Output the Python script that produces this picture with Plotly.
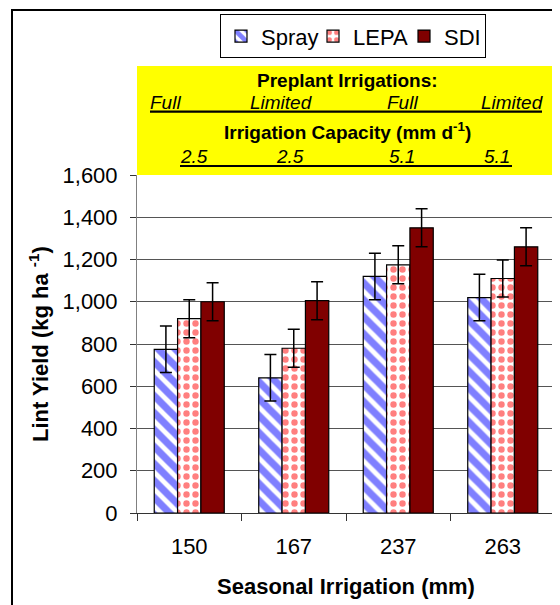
import plotly.graph_objects as go

categories = ["150", "167", "237", "263"]
spray = [775, 640, 1120, 1020]
spray_err = [110, 110, 110, 110]
lepa = [920, 780, 1175, 1110]
lepa_err = [90, 90, 90, 88]
sdi = [1000, 1005, 1350, 1260]
sdi_err = [90, 90, 90, 90]

preplant_labels = ["Full", "Limited", "Full", "Limited"]
capacity_labels = ["2.5", "2.5", "5.1", "5.1"]

FONT = "Liberation Sans, Arial, sans-serif"
OFF = 8  # page body margin of the browser
W, H = 560 - OFF, 605 - OFF
L, R, T, B = 137, 555, 175, 513  # plot area in reference px


def px(x):
    return (x - L) / (R - L)


def py(y):
    return (B - y) / (B - T)


err_style = dict(type="data", color="black", thickness=1.5, width=6, visible=True)

fig = go.Figure()
fig.add_trace(go.Bar(
    name="Spray", x=categories, y=spray, legendwidth=47,
    error_y=dict(array=spray_err, **err_style),
    marker=dict(color="white", line=dict(color="black", width=1.2),
                pattern=dict(shape="\\", fgcolor="#0000FF", bgcolor="white",
                             size=12, solidity=0.6)),
))
fig.add_trace(go.Bar(
    name="LEPA", x=categories, y=lepa, legendwidth=46,
    error_y=dict(array=lepa_err, **err_style),
    marker=dict(color="white", line=dict(color="black", width=1.2),
                pattern=dict(shape=".", fgcolor="#FF0000", bgcolor="white",
                             size=9, solidity=0.4)),
))
fig.add_trace(go.Bar(
    name="SDI", x=categories, y=sdi, legendwidth=36,
    error_y=dict(array=sdi_err, **err_style),
    marker=dict(color="#800000", line=dict(color="black", width=1.2)),
))

shapes = [
    # yellow info box
    dict(type="rect", xref="paper", yref="paper", x0=0, x1=1, y0=1, y1=py(66),
         fillcolor="#FFFF00", line=dict(width=0), layer="below"),
    # underlines
    dict(type="line", xref="paper", yref="paper", x0=px(150), x1=px(542),
         y0=py(111.7), y1=py(111.7), line=dict(color="black", width=2.2)),
    dict(type="line", xref="paper", yref="paper", x0=px(180), x1=px(512),
         y0=py(166), y1=py(166), line=dict(color="black", width=2.2)),
    # right border of plot area
    dict(type="line", xref="paper", yref="paper", x0=1, x1=1, y0=0, y1=1,
         line=dict(color="#808080", width=1)),
    # outer frame
    dict(type="rect", xref="paper", yref="paper", x0=px(12), x1=px(700),
         y0=py(800), y1=py(10), line=dict(color="black", width=2),
         fillcolor="rgba(0,0,0,0)"),
]

annotations = [
    dict(text="<b>Preplant Irrigations:</b>", x=px(347), y=py(80.7)),
    dict(text="<b>Irrigation Capacity (mm d<sup>-1</sup>)</b>", x=px(347), y=py(130.7)),
]
for lab, cx in zip(preplant_labels, [165, 281, 402, 512]):
    annotations.append(dict(text="<i>" + lab + "</i>", x=px(cx), y=py(102.7)))
for lab, cx in zip(capacity_labels, [194, 290, 402, 497]):
    annotations.append(dict(text="<i>" + lab + "</i>", x=px(cx), y=py(156.7)))
for a in annotations:
    a.update(xref="paper", yref="paper", showarrow=False, xanchor="center",
             yanchor="middle", font=dict(family=FONT, size=19, color="black"))

annotations.append(dict(text="<b>Seasonal Irrigation (mm)</b>", xref="paper", yref="paper",
                        x=px(346), y=py(586), showarrow=False, xanchor="center",
                        yanchor="middle", font=dict(family=FONT, size=22, color="black")))
annotations.append(dict(text="<b>Lint Yield (kg ha <sup>-1</sup>)</b>", xref="paper", yref="paper",
                        x=px(39), y=py(344), showarrow=False, xanchor="center",
                        yanchor="middle", textangle=-90,
                        font=dict(family=FONT, size=22, color="black")))

fig.update_layout(
    width=W, height=H,
    margin=dict(l=L - OFF, r=W - (R - OFF), t=T - OFF, b=H - (B - OFF)),
    paper_bgcolor="white", plot_bgcolor="white",
    font=dict(family=FONT, size=22, color="black"),
    barmode="group", bargap=0.33, bargroupgap=0,
    showlegend=True,
    legend=dict(orientation="h", x=px(220), y=py(14.3), xanchor="left", yanchor="top",
                bordercolor="black", borderwidth=1, bgcolor="white",
                font=dict(family=FONT, size=22), itemwidth=30,
                traceorder="normal"),
    shapes=shapes,
    annotations=annotations,
)
fig.update_xaxes(type="category", showline=True, linecolor="#333", linewidth=1,
                 ticks="outside", tickson="boundaries", ticklen=7, tickcolor="#333",
                 showgrid=False, tickfont=dict(size=22), ticklabelstandoff=14)
fig.update_yaxes(range=[0, 1600], dtick=200, tickformat=",", showline=True,
                 linecolor="#808080", linewidth=1, ticks="outside", ticklen=6,
                 tickcolor="#333", showgrid=True, gridcolor="#555", gridwidth=1,
                 tickfont=dict(size=22), ticklabelstandoff=8, zeroline=False)

fig.write_html("out.html")
